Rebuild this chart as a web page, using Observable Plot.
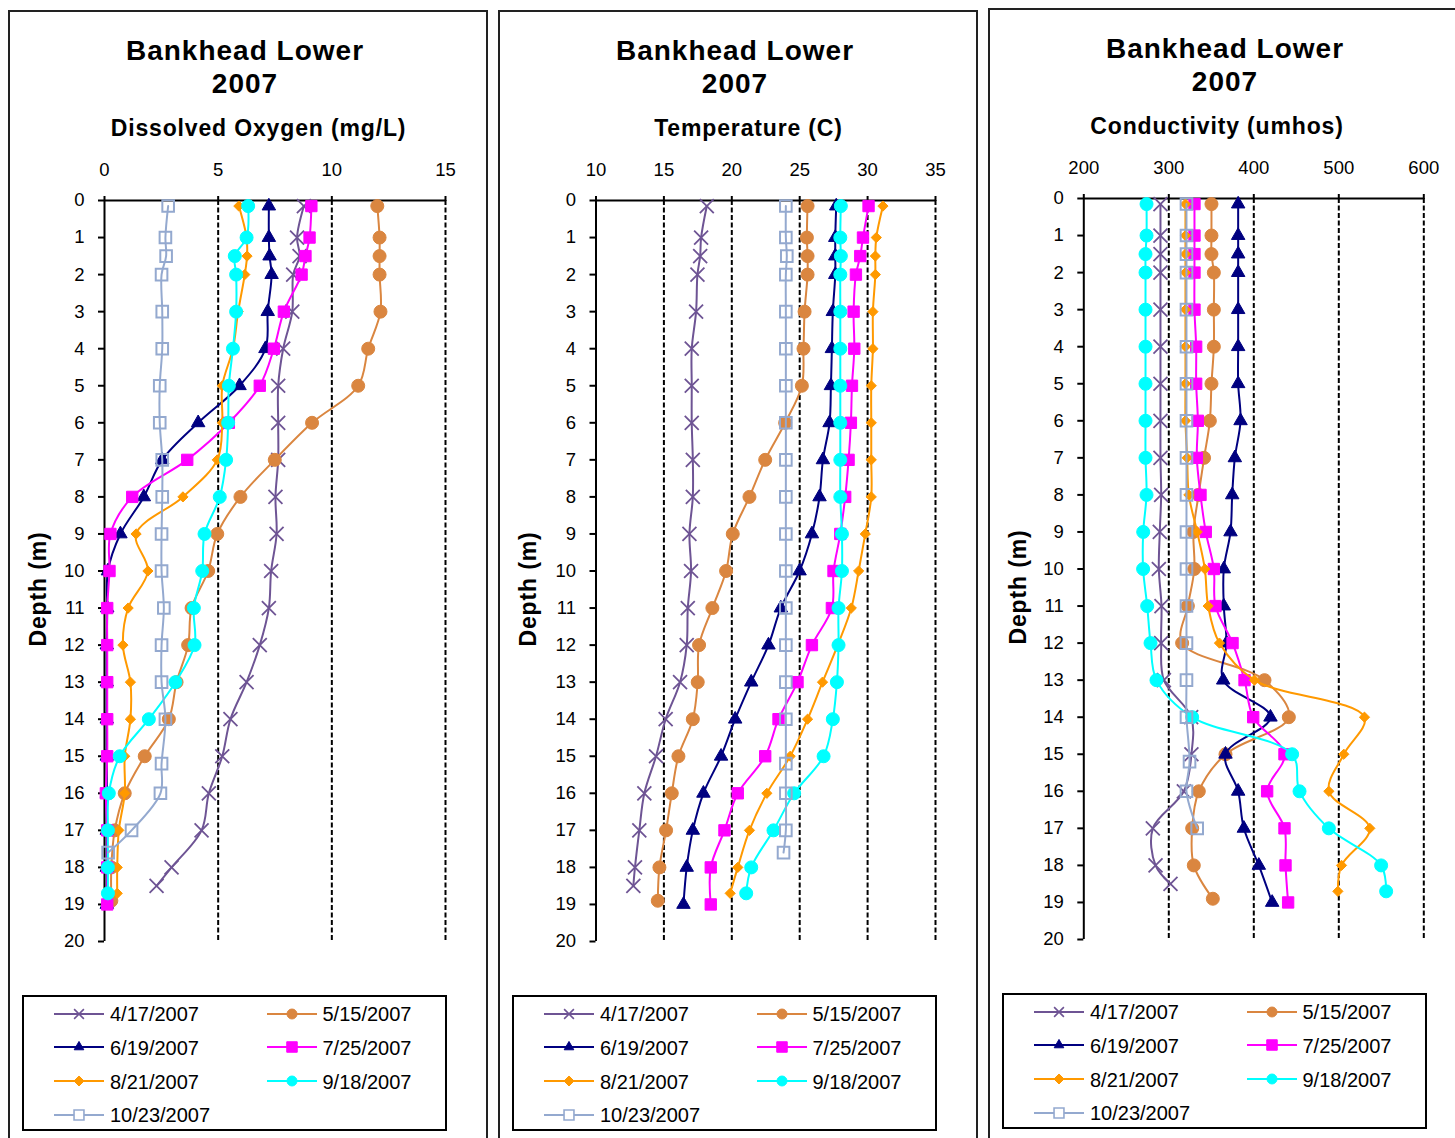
<!DOCTYPE html>
<html><head><meta charset="utf-8">
<script src="https://cdn.jsdelivr.net/npm/d3@7"></script>
<script src="https://cdn.jsdelivr.net/npm/@observablehq/plot@0.6"></script>
<style>
html,body{margin:0;padding:0;background:#fff;overflow:hidden}
#root{position:relative;width:1455px;height:1138px;overflow:hidden;font-family:"Liberation Sans",Arial,Helvetica,sans-serif;color:#000;background:#fff}
.box{position:absolute;border:2px solid #222;box-sizing:border-box}
.lbox{position:absolute;border:2px solid #000;box-sizing:border-box;background:#fff}
.t{position:absolute;white-space:nowrap;transform:translateX(-50%)}
.title{font-weight:bold;font-size:28px;line-height:28px;letter-spacing:1px}
.alab{font-weight:bold;font-size:23px;line-height:23px;letter-spacing:0.85px}
.ylab{position:absolute;white-space:nowrap;font-weight:bold;font-size:23px;line-height:23px;letter-spacing:0.85px;transform:translate(-50%,-50%) rotate(-90deg)}
.ltxt{position:absolute;white-space:nowrap;font-size:20px;line-height:20px}
.plot{position:absolute;width:480px;height:830px}
.plot svg{max-width:none !important;width:480px;height:830px}
</style></head><body><div id="root"></div>
<script>
// ---------------- DATA ----------------
const seriesNames = ["4/17/2007","5/15/2007","6/19/2007","7/25/2007","8/21/2007","9/18/2007","10/23/2007"];

// sampling depths (m) per survey
const depth_0417 = [0.15,1,1.5,2,3,4,5,6,7,8,9,10,11,12,13,14,15,16,17,18,18.5];
const depth_0515 = [0.15,1,1.5,2,3,4,5,6,7,8,9,10,11,12,13,14,15,16,17,18,18.9];
const depth_0619 = [0.15,1,1.5,2,3,4,5,6,7,8,9,10,11,12,13,14,15,16,17,18,19];
const depth_0725 = [0.15,1,1.5,2,3,4,5,6,7,8,9,10,11,12,13,14,15,16,17,18,19];
const depth_0821 = [0.15,1,1.5,2,3,4,5,6,7,8,9,10,11,12,13,14,15,16,17,18,18.7];
const depth_0918 = [0.15,1,1.5,2,3,4,5,6,7,8,9,10,11,12,13,14,15,16,17,18,18.7];
const depth_1023 = [0.15,1,1.5,2,3,4,5,6,7,8,9,10,11,12,13,14,15.2,16,17,17.6];

// Dissolved oxygen (mg/L)
const do_0417 = [8.77,8.47,8.58,8.30,8.26,7.86,7.64,7.64,7.64,7.52,7.57,7.33,7.23,6.83,6.25,5.54,5.18,4.59,4.27,2.95,2.29];
const do_0515 = [12.0,12.1,12.1,12.1,12.14,11.6,11.16,9.13,7.49,5.98,4.96,4.56,3.83,3.68,3.17,2.83,1.77,0.89,0.45,0.3,0.3];
const do_0619 = [7.23,7.23,7.26,7.35,7.18,7.08,5.94,4.12,2.54,1.73,0.70,0.15,0.12,0.10,0.10,0.10,0.10,0.10,0.10,0.10,0.10];
const do_0725 = [9.10,9.02,8.84,8.67,7.89,7.45,6.83,5.47,3.64,1.22,0.26,0.22,0.12,0.12,0.12,0.12,0.12,0.06,0.12,0.12,0.12];
const do_0821 = [5.91,6.25,6.27,6.17,5.88,5.65,5.18,5.18,4.96,3.45,1.39,1.91,1.04,0.81,1.14,1.14,0.89,0.89,0.63,0.56,0.56];
const do_0918 = [6.32,6.25,5.73,5.79,5.79,5.65,5.47,5.44,5.35,5.07,4.40,4.30,3.93,3.96,3.12,1.95,0.67,0.19,0.15,0.15,0.15];
const do_1023 = [2.80,2.68,2.71,2.51,2.54,2.54,2.43,2.43,2.54,2.54,2.51,2.51,2.61,2.51,2.51,2.68,2.51,2.46,1.19,0.16];

// Temperature (C)
const t_0417 = [18.16,17.74,17.67,17.47,17.37,17.05,17.05,17.05,17.13,17.13,16.88,17.00,16.76,16.68,16.19,15.13,14.42,13.56,13.19,12.87,12.75];
const t_0515 = [25.58,25.53,25.58,25.58,25.36,25.28,25.16,23.93,22.46,21.30,20.07,19.58,18.57,17.59,17.49,17.13,16.07,15.58,15.16,14.67,14.55];
const t_0619 = [27.69,27.62,27.62,27.62,27.44,27.37,27.30,27.20,26.71,26.46,25.90,24.99,23.61,22.70,21.43,20.25,19.21,17.91,17.13,16.68,16.44];
const t_0725 = [30.07,29.66,29.46,29.14,28.97,29.02,28.85,28.77,28.60,28.35,27.99,27.49,27.37,25.90,24.84,23.44,22.46,20.44,19.46,18.45,18.45];
const t_0821 = [31.13,30.64,30.57,30.57,30.39,30.39,30.27,30.27,30.27,30.27,29.83,29.34,28.80,27.80,26.68,25.58,24.30,22.58,21.30,20.44,19.88];
const t_0918 = [28.03,27.99,28.03,27.99,27.99,27.99,27.99,27.99,27.99,27.99,28.11,28.11,27.86,27.86,27.74,27.44,26.76,24.59,23.07,21.43,21.06];
const t_1023 = [23.98,23.98,24.05,23.98,23.98,23.98,23.98,23.98,23.98,23.98,23.98,23.98,23.98,23.98,23.98,23.98,23.98,23.98,23.98,23.81];

// Conductivity (umhos)
const c_0417 = [290.2,290.2,290.2,290.2,290.2,290.2,290.2,290.2,290.2,291.0,289.4,288.3,291.4,291.0,294.2,326.3,326.6,317.7,281.2,284.4,302.0];
const c_0515 = [350.2,350.2,350.2,353.0,353.0,353.0,350.2,348.3,341.5,335.0,329.0,330.0,322.4,315.7,412.6,441.2,366.7,335.3,327.5,329.4,351.8];
const c_0619 = [381.6,381.6,381.6,381.6,381.6,381.6,381.6,384.4,377.7,374.6,372.6,364.7,364.7,367.9,364.0,419.6,366.7,381.6,388.3,405.9,421.6];
const c_0725 = [330.2,330.2,330.2,330.2,330.2,332.2,332.2,334.2,333.0,337.3,343.5,353.0,354.9,375.0,389.1,399.3,436.1,415.7,436.1,437.3,440.4];
const c_0821 = [319.6,319.6,319.6,319.6,319.6,319.6,319.6,319.6,321.6,323.6,333.4,342.4,346.3,359.6,400.8,530.2,505.9,488.3,536.5,503.2,498.9];
const c_0918 = [273.8,273.8,272.6,272.6,272.6,272.6,272.6,272.6,272.6,273.8,269.9,269.8,274.6,278.5,285.5,327.5,445.1,453.8,488.3,549.8,555.7];
const c_1023 = [320.8,320.8,320.8,320.8,320.8,320.8,320.8,320.8,320.8,320.8,320.8,320.8,320.8,320.8,320.8,320.8,324.4,320.8,333.4,null];

const depthTicks = [0,1,2,3,4,5,6,7,8,9,10,11,12,13,14,15,16,17,18,19,20];
const doTicks = [0,5,10,15];
const tTicks = [10,15,20,25,30,35];
const cTicks = [200,300,400,500,600];

const titleLine1 = "Bankhead Lower";
const titleLine2 = "2007";
const yTitle = "Depth (m)";

// ---------------- STYLE ----------------
const depths = [depth_0417,depth_0515,depth_0619,depth_0725,depth_0821,depth_0918,depth_1023];
const seriesStyle = [
  {color:"#6E5494", symbol:"times",    r:6.4, filled:false, sw:1.8, lsym:d3.symbolTimes,    lsize:64},
  {color:"#DA8640", symbol:"circle",   r:6.5, filled:true,  sw:1,   lsym:d3.symbolCircle,   lsize:78},
  {color:"#000080", symbol:"triangle", r:5.0, filled:true,  sw:1,   lsym:d3.symbolTriangle, lsize:40},
  {color:"#FF00FF", symbol:"square",   r:6.4, filled:true,  sw:1,   lsym:d3.symbolSquare,   lsize:110},
  {color:"#FF9900", symbol:"diamond2", r:4.6, filled:true,  sw:1,   lsym:d3.symbolDiamond2, lsize:64},
  {color:"#00FFFF", symbol:"circle",   r:6.5, filled:true,  sw:1,   lsym:d3.symbolCircle,   lsize:78},
  {color:"#94A9CF", symbol:"square2",  r:7.4, filled:false, sw:2,   lsym:d3.symbolSquare2,  lsize:125}
];

const panels = [
  {left:8,   top:10, dy:0,  label:"Dissolved Oxygen (mg/L)", labelCx:250.5, domain:[0,15],    ticks:doTicks, mL:96,   mR:43,
   values:[do_0417,do_0515,do_0619,do_0725,do_0821,do_0918,do_1023]},
  {left:498, top:10, dy:0,  label:"Temperature (C)",         labelCx:250.5, domain:[10,35],   ticks:tTicks,  mL:97.5, mR:43,
   values:[t_0417,t_0515,t_0619,t_0725,t_0821,t_0918,t_1023]},
  {left:988, top:8,  dy:-2, label:"Conductivity (umhos)",    labelCx:229,   domain:[200,600], ticks:cTicks,  mL:95.3, mR:44.7,
   values:[c_0417,c_0515,c_0619,c_0725,c_0821,c_0918,c_1023]}
];

const root = document.getElementById("root");
function add(cls, text, css) {
  const d = document.createElement("div");
  d.className = cls;
  if (text != null) d.textContent = text;
  Object.assign(d.style, css);
  root.appendChild(d);
  return d;
}

panels.forEach(p => {
  add("box", null, {left:p.left+"px", top:p.top+"px", width:"480px", height:"1200px"});
  add("t title", titleLine1, {left:(p.left+237)+"px", top:(37+p.dy)+"px"});
  add("t title", titleLine2, {left:(p.left+237)+"px", top:(70.3+p.dy)+"px"});
  add("t alab", p.label, {left:(p.left+p.labelCx)+"px", top:(117+p.dy)+"px"});
  add("ylab", yTitle, {left:(p.left+30)+"px", top:(589+p.dy)+"px"});

  const marks = [];
  marks.push(Plot.ruleX(p.ticks.slice(1), {stroke:"#000", strokeWidth:2, strokeDasharray:"5,2.5"}));
  marks.push(Plot.ruleY([0], {stroke:"#000", strokeWidth:2}));
  marks.push(Plot.ruleX([p.domain[0]], {stroke:"#000", strokeWidth:2}));
  marks.push(Plot.axisX({anchor:"top", ticks:p.ticks, tickSize:5, tickPadding:20, strokeWidth:2, label:null, tickFormat:d => String(d)}));
  marks.push(Plot.axisY({anchor:"left", ticks:depthTicks, tickSize:6, tickPadding:14, strokeWidth:2, label:null, tickFormat:d => String(d)}));
  p.values.forEach((vals, i) => {
    const s = seriesStyle[i];
    const rows = depths[i].map((d, k) => ({depth:d, value:vals[k], series:seriesNames[i]}));
    marks.push(Plot.line(rows, {x:"value", y:"depth", stroke:s.color, strokeWidth:2, curve:"catmull-rom"}));
    marks.push(Plot.dot(rows, {x:"value", y:"depth", symbol:s.symbol, r:s.r,
      fill: s.filled ? s.color : "none", stroke:s.color, strokeWidth:s.sw}));
  });

  const chart = Plot.plot({
    width:480, height:830,
    marginLeft:p.mL, marginRight:p.mR, marginTop:60, marginBottom:29,
    x:{domain:p.domain, label:null},
    y:{domain:[0,20], reverse:true, label:null},
    style:{fontFamily:'"Liberation Sans", Arial, Helvetica, sans-serif', fontSize:"18.5px", color:"#000", background:"transparent", overflow:"visible"},
    marks
  });
  const wrap = add("plot", null, {left:p.left+"px", top:(140+p.dy)+"px"});
  wrap.appendChild(chart);

  // legend
  const lx = p.left + 14, ly = 995 + p.dy;
  add("lbox", null, {left:lx+"px", top:ly+"px", width:"425px", height:"136px"});
  seriesNames.forEach((name, i) => {
    const col = i % 2, row = Math.floor(i / 2);
    const cy = ly + 18.5 + row * 33.7;
    const sx = lx + 32 + col * 212.5;
    const s = seriesStyle[i];
    const svg = d3.create("svg").attr("width", 50).attr("height", 16)
      .style("position","absolute").style("left", sx+"px").style("top", (cy-8)+"px").style("overflow","visible");
    svg.append("line").attr("x1",0).attr("x2",50).attr("y1",8).attr("y2",8).attr("stroke",s.color).attr("stroke-width",2);
    svg.append("path").attr("transform","translate(25,8)").attr("d", d3.symbol(s.lsym, s.lsize)())
      .attr("fill", s.filled ? s.color : "#fff").attr("stroke", s.color).attr("stroke-width", s.filled ? 1 : 1.6);
    root.appendChild(svg.node());
    add("ltxt", name, {left:(sx+56)+"px", top:(cy+7.7-16.9)+"px"});
  });
});
</script></body></html>
